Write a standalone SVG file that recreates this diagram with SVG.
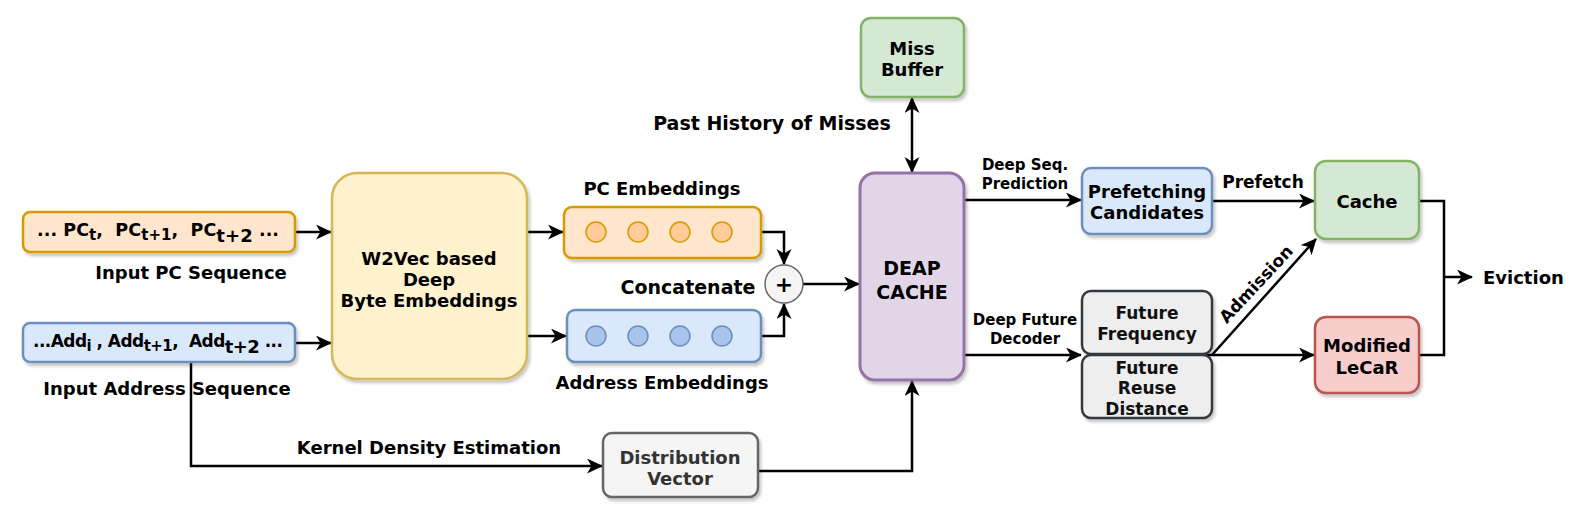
<svg xmlns="http://www.w3.org/2000/svg" width="1576" height="526" viewBox="0 0 1576 526">
<style>
.t{font-family:"DejaVu Sans",Verdana,sans-serif;font-weight:bold;font-size:17px;fill:#000;text-anchor:middle;dominant-baseline:central}
.st{text-anchor:start}
.s15{font-size:15px}
.s18{font-size:18px}
.s19{font-size:19px}
.sub{font-size:15px}
.n{stroke-width:2.5;filter:url(#sh)}
.orange{fill:#ffe6cc;stroke:#d79b00}
.blue{fill:#dae8fc;stroke:#6c8ebf}
.yellow{fill:#fff2cc;stroke:#d6b656}
.purple{fill:#e1d5e7;stroke:#9673a6}
.green{fill:#d5e8d4;stroke:#82b366}
.red{fill:#f8cecc;stroke:#b85450}
.grey{fill:#f5f5f5;stroke:#666666}
.dark{fill:#eeeeee;stroke:#36393d}
.c{fill:none;stroke:#000;stroke-width:2.5}
.a{marker-end:url(#ar)}
</style>
<defs>
<filter id="sh" x="-10%" y="-10%" width="130%" height="130%">
<feDropShadow dx="2" dy="3" stdDeviation="1.5" flood-color="#000" flood-opacity="0.22"/>
</filter>
<marker id="ar" markerUnits="userSpaceOnUse" markerWidth="18" markerHeight="16" refX="15" refY="7.5" orient="auto-start-reverse" viewBox="0 0 18 16">
<path d="M0,0 L16,7.5 L0,15 L4.5,7.5 Z" fill="#000"/>
</marker>
</defs>

<g id="connectors">
<path class="c a" d="M295,232 H331"/>
<path class="c a" d="M295,343 H331"/>
<path class="c a" d="M527,232 H563"/>
<path class="c a" d="M527,336 H566"/>
<path class="c a" d="M761,232 H784 V264"/>
<path class="c a" d="M761,336 H784 V304"/>
<path class="c a" d="M803,284 H859"/>
<path class="c a" d="M912,98 V172" marker-start="url(#ar)"/>
<path class="c a" d="M964,200 H1081"/>
<path class="c a" d="M964,355 H1081"/>
<path class="c a" d="M1212,201 H1314"/>
<path class="c a" d="M1180,355 H1314"/>
<path class="c a" d="M1212,355 L1316,239"/>
<path class="c" d="M1419,201 H1444 V355 H1419"/>
<path class="c a" d="M1444,277 H1472"/>
<path class="c a" d="M191,362 V466 H602"/>
<path class="c a" d="M758,471 H912 V381"/>
<text class="t s19" x="772" y="123">Past History of Misses</text>
<text class="t s15" x="1025" y="165">Deep Seq.</text>
<text class="t s15" x="1025" y="184">Prediction</text>
<text class="t s15" x="1025" y="320">Deep Future</text>
<text class="t s15" x="1025" y="339">Decoder</text>
<text class="t" x="1263" y="182">Prefetch</text>
<text class="t" transform="translate(1256,284) rotate(-47)">Admission</text>
<text class="t s18 st" x="1483" y="277">Eviction</text>
<text class="t s18" x="429" y="447">Kernel Density Estimation</text>
<text class="t s19" x="688" y="287">Concatenate</text>
</g>

<g id="pc-input">
<rect class="n orange" x="23" y="212" width="272" height="40" rx="7"/>
<text class="t st" x="37" y="230" style="font-size:17.5px" textLength="242" lengthAdjust="spacing" xml:space="preserve">... PC<tspan class="sub" dy="5">t</tspan><tspan dy="-5">,  PC</tspan><tspan class="sub" dy="5">t+1</tspan><tspan dy="-5">,  PC</tspan><tspan dy="5" style="font-size:18px">t+2</tspan><tspan dy="-5"> ...</tspan></text>
<text class="t s18" x="191" y="272">Input PC Sequence</text>
</g>

<g id="addr-input">
<rect class="n blue" x="23" y="323" width="272" height="39" rx="7"/>
<text class="t st" x="33" y="341" textLength="250" lengthAdjust="spacing" xml:space="preserve">...Add<tspan class="sub" dy="5">i</tspan><tspan dy="-5"> , Add</tspan><tspan class="sub" dy="5">t+1</tspan><tspan dy="-5">,  Add</tspan><tspan dy="5" style="font-size:18px">t+2</tspan><tspan dy="-5"> ...</tspan></text>
<text class="t s18" x="167" y="388">Input Address Sequence</text>
</g>

<g id="w2vec">
<rect class="n yellow" x="332" y="173" width="195" height="206" rx="25"/>
<text class="t s18" x="429" y="258">W2Vec based</text>
<text class="t s18" x="429" y="279">Deep</text>
<text class="t s18" x="429" y="300">Byte Embeddings</text>
</g>

<g id="pc-emb">
<rect class="n orange" x="564" y="207" width="197" height="51" rx="8"/>
<g fill="#ffcc99" stroke="#d79b00" stroke-width="1.5">
<circle cx="596" cy="232" r="10"/><circle cx="638" cy="232" r="10"/><circle cx="680" cy="232" r="10"/><circle cx="722" cy="232" r="10"/>
</g>
<text class="t s18" x="662" y="188">PC Embeddings</text>
</g>

<g id="addr-emb">
<rect class="n blue" x="567" y="310" width="194" height="52" rx="8"/>
<g fill="#a9c4eb" stroke="#6c8ebf" stroke-width="1.5">
<circle cx="596" cy="336" r="10"/><circle cx="638" cy="336" r="10"/><circle cx="680" cy="336" r="10"/><circle cx="722" cy="336" r="10"/>
</g>
<text class="t s18" x="662" y="382">Address Embeddings</text>
</g>

<g id="concat">
<circle cx="784" cy="284" r="19" fill="#f5f5f5" stroke="#666666" stroke-width="1.5"/>
<text class="t" x="784" y="284" style="font-size:22px">+</text>
</g>

<g id="deap-cache">
<rect class="n purple" x="860" y="173" width="104" height="207" rx="15" style="stroke-width:3"/>
<text class="t s19" x="912" y="268">DEAP</text>
<text class="t s19" x="912" y="292">CACHE</text>
</g>

<g id="miss-buffer">
<rect class="n green" x="861" y="18" width="103" height="79" rx="10"/>
<text class="t s18" x="912" y="48">Miss</text>
<text class="t s18" x="912" y="69">Buffer</text>
</g>

<g id="prefetching">
<rect class="n blue" x="1082" y="168" width="130" height="66" rx="9"/>
<text class="t s18" x="1147" y="191">Prefetching</text>
<text class="t s18" x="1147" y="212">Candidates</text>
</g>

<g id="cache">
<rect class="n green" x="1315" y="161" width="104" height="78" rx="11"/>
<text class="t s18" x="1367" y="201">Cache</text>
</g>

<g id="future-frequency">
<rect class="n dark" x="1082" y="291" width="130" height="63" rx="9"/>
<text class="t" x="1147" y="313" style="fill:#111">Future</text>
<text class="t" x="1147" y="334" style="fill:#111">Frequency</text>
</g>

<g id="future-reuse">
<rect class="n dark" x="1082" y="355" width="130" height="63" rx="9"/>
<text class="t" x="1147" y="368" style="fill:#111">Future</text>
<text class="t" x="1147" y="388" style="fill:#111">Reuse</text>
<text class="t" x="1147" y="409" style="fill:#111">Distance</text>
</g>

<g id="lecar">
<rect class="n red" x="1315" y="317" width="104" height="76" rx="11"/>
<text class="t s18" x="1367" y="345">Modified</text>
<text class="t s18" x="1367" y="367">LeCaR</text>
</g>

<g id="distribution">
<rect class="n grey" x="603" y="433" width="155" height="64" rx="9"/>
<text class="t s18" x="680" y="457" style="fill:#333">Distribution</text>
<text class="t s18" x="680" y="478" style="fill:#333">Vector</text>
</g>
</svg>
